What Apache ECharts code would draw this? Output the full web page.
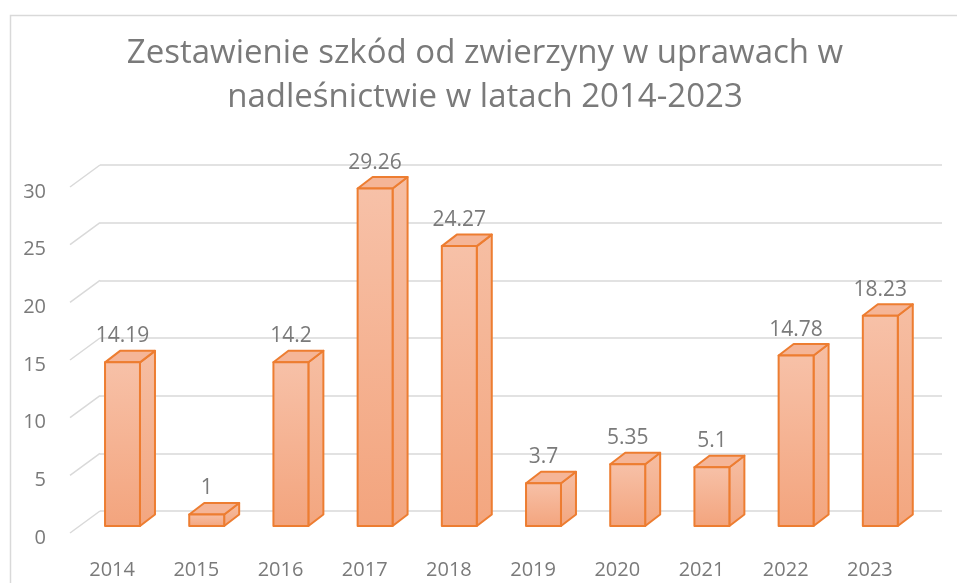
<!DOCTYPE html>
<html>
<head>
<meta charset="utf-8">
<script src="https://cdn.jsdelivr.net/npm/echarts@6/dist/echarts.min.js"></script>
<style>
  html, body { margin: 0; padding: 0; background: #fff; }
  #main { width: 957px; height: 583px; }
</style>
</head>
<body>
<div id="main"></div>
<script>
const years = ['2014', '2015', '2016', '2017', '2018', '2019', '2020', '2021', '2022', '2023'];
const damage = [14.19, 1, 14.2, 29.26, 24.27, 3.7, 5.35, 5.1, 14.78, 18.23];
const yTicks = [0, 5, 10, 15, 20, 25, 30];
const titleLines = ['Zestawienie szkód od zwierzyny w uprawach w', 'nadleśnictwie w latach 2014-2023'];

const textColor = '#7a7a7a';
const gridColor = '#d9d9d9';
const edge = '#ed7d31';
// przesunięcie głębi ściany bocznej (3D)
const depthX = 30, depthY = -22;

const chart = echarts.init(document.getElementById('main'), null, { renderer: 'canvas' });

function renderBar(params, api) {
  const idx = api.value(0);
  const v = api.value(1);
  const base = api.coord([idx, 0]);
  const top = api.coord([idx, v]);
  const band = api.size([1, 0])[0];
  const w = band * 0.415;
  const cx = base[0] + 10.4;
  const x0 = cx - w / 2, x1 = cx + w / 2;
  const yb = base[1] - 7, yt = top[1] - 7;
  const dx = 15, dy = -11.5;
  const stroke = { stroke: edge, lineWidth: 2, lineJoin: 'round' };
  return {
    type: 'group',
    children: [{
      type: 'polygon',
      shape: { points: [[x1, yt], [x1 + dx, yt + dy], [x1 + dx, yb + dy], [x1, yb]] },
      style: Object.assign({
        fill: { type: 'linear', x: 0, y: 0, x2: 0, y2: 1,
          colorStops: [{ offset: 0, color: '#f6bea3' }, { offset: 1, color: '#f3a67f' }] }
      }, stroke)
    }, {
      type: 'polygon',
      shape: { points: [[x0, yt], [x0 + dx, yt + dy], [x1 + dx, yt + dy], [x1, yt]] },
      style: Object.assign({ fill: '#f5b597' }, stroke)
    }, {
      type: 'rect',
      shape: { x: x0, y: yt, width: w, height: yb - yt },
      style: Object.assign({
        fill: { type: 'linear', x: 0, y: 0, x2: 0, y2: 1,
          colorStops: [{ offset: 0, color: '#f7c1a8' }, { offset: 1, color: '#f3a47d' }] }
      }, stroke)
    }, {
      type: 'text',
      style: {
        text: String(v), x: cx, y: yt - 26,
        align: 'center', verticalAlign: 'middle',
        fill: textColor, font: '21px "Open Sans"'
      }
    }]
  };
}

function renderDiagonal(params, api) {
  const v = api.value(1);
  const p = api.coord([0, v]);
  const band = api.size([1, 0])[0];
  const x = p[0] - band / 2;
  return {
    type: 'line',
    shape: { x1: x, y1: p[1], x2: x + depthX, y2: p[1] + depthY },
    style: { stroke: gridColor, lineWidth: 1.5 }
  };
}

const option = {
  animation: false,
  backgroundColor: '#fff',
  graphic: [{
    type: 'rect',
    shape: { x: 10.5, y: 15.5, width: 1200, height: 1000 },
    style: { fill: null, stroke: gridColor, lineWidth: 1.5 },
    silent: true
  }].concat(titleLines.map((t, i) => ({
    type: 'text',
    x: 485, y: 54 + i * 44,
    style: {
      text: t, align: 'center', verticalAlign: 'middle',
      font: '33px "Open Sans"', fill: textColor
    }
  }))),
  grid: [
    { left: 100, right: 15, top: 165, bottom: 72 },   // tylna ściana
    { left: 70, right: 45, top: 187, bottom: 50 },    // przednia krawędź podłogi
    { left: 70, right: 45, top: 192, bottom: 45 }     // tylko etykiety osi Y
  ],
  xAxis: [{
    gridIndex: 0, type: 'category', data: years, show: false
  }, {
    gridIndex: 1, type: 'category', data: years,
    axisLine: { show: false }, axisTick: { show: false },
    axisLabel: { color: textColor, fontSize: 20, fontFamily: 'Open Sans', margin: 27 }
  }, {
    gridIndex: 2, type: 'category', data: years, show: false
  }],
  yAxis: [{
    gridIndex: 0, type: 'value', min: 0, max: 30, interval: 5,
    axisLabel: { show: false }, axisLine: { show: false }, axisTick: { show: false },
    splitLine: { lineStyle: { color: gridColor, width: 1.5 } }
  }, {
    gridIndex: 1, type: 'value', min: 0, max: 30, interval: 5,
    axisLabel: { show: false }, axisLine: { show: false }, axisTick: { show: false },
    splitLine: { show: false }
  }, {
    gridIndex: 2, type: 'value', min: 0, max: 30, interval: 5,
    splitLine: { show: false }, axisLine: { show: false }, axisTick: { show: false },
    axisLabel: { color: textColor, fontSize: 20, fontFamily: 'Open Sans', margin: 24 }
  }],
  series: [{
    type: 'custom',
    xAxisIndex: 1, yAxisIndex: 1,
    renderItem: renderDiagonal,
    data: yTicks.map(t => [0, t]),
    clip: false, silent: true
  }, {
    type: 'custom',
    xAxisIndex: 1, yAxisIndex: 1,
    renderItem: renderBar,
    data: damage.map((v, i) => [i, v]),
    clip: false
  }]
};

chart.setOption(option);
</script>
</body>
</html>
